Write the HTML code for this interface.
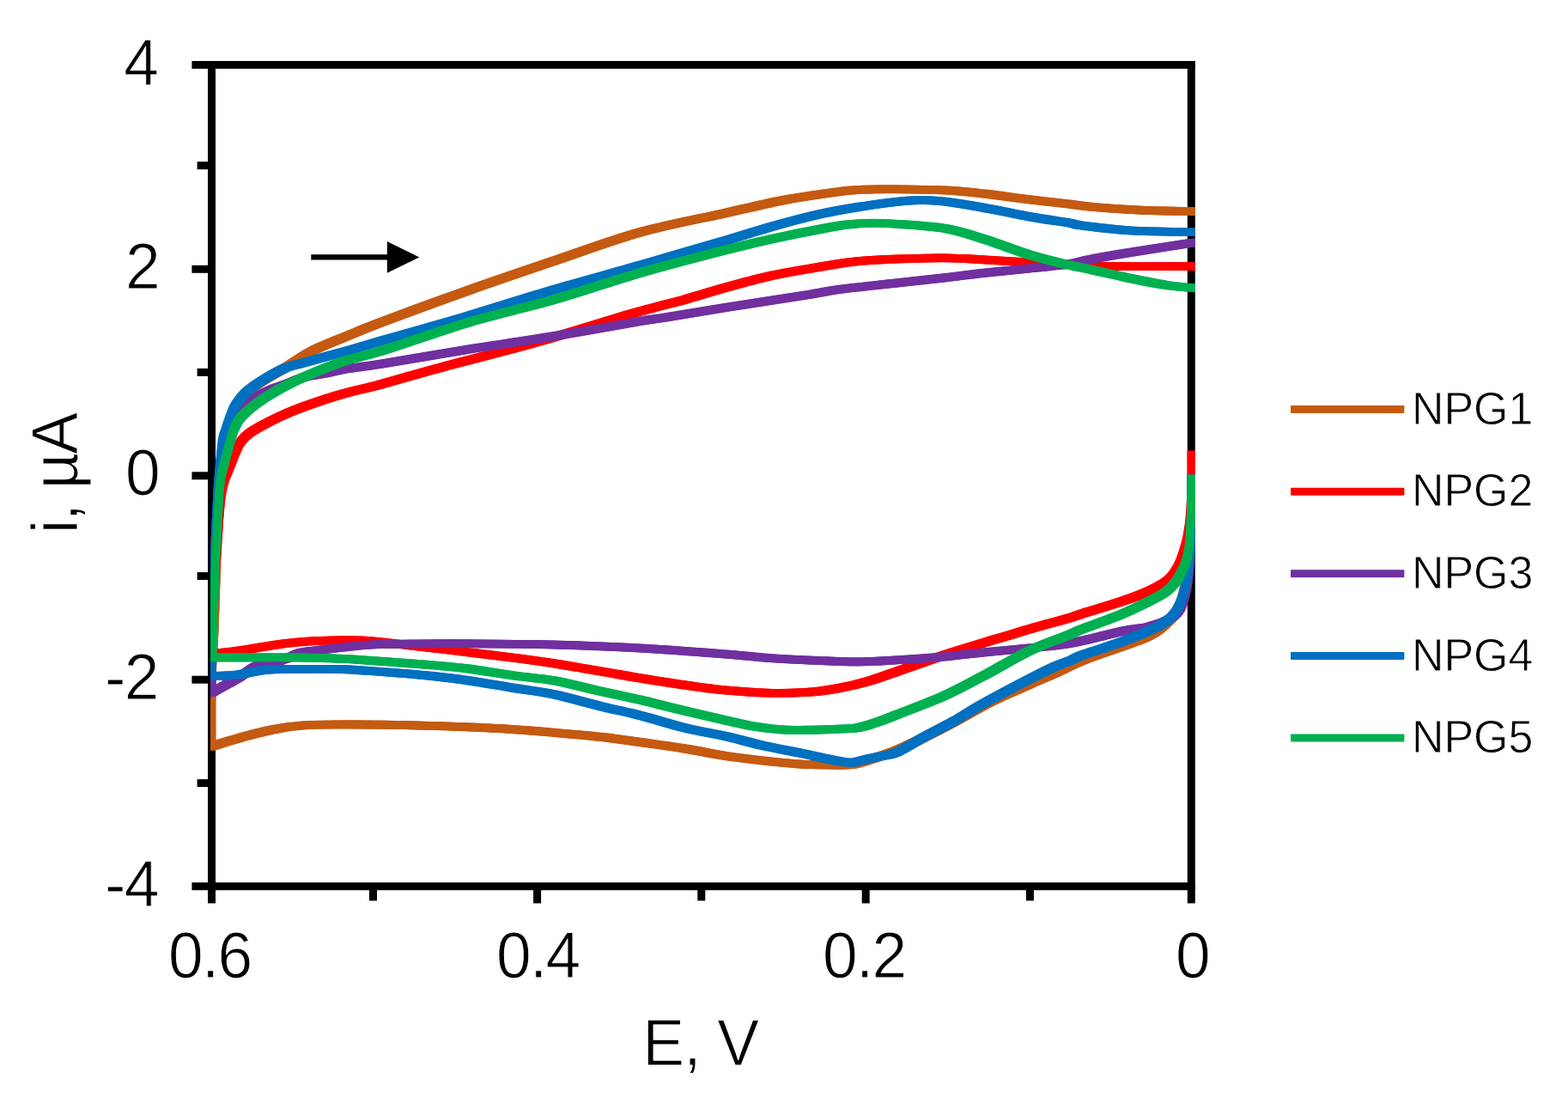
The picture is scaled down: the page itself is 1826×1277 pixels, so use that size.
<!DOCTYPE html>
<html lang="en">
<head>
<meta charset="utf-8">
<title>Chart</title>
<style>
html,body{margin:0;padding:0;background:#fff;}
body{width:1826px;height:1277px;overflow:hidden;font-family:"Liberation Sans",sans-serif;}
svg{display:block;}
text{fill:#000;}
</style>
</head>
<body>
<svg width="1826" height="1277" viewBox="0 0 1826 1277">
<rect x="0" y="0" width="1826" height="1277" fill="#fff"/>
<g stroke="#000" stroke-width="9" fill="none" stroke-linecap="butt">
<path d="M223.4 75.5 H1391.8"/>
<path d="M223.4 1031.7 H1391.8"/>
<path d="M246.5 71 V1051.5"/>
<path d="M1387.3 71 V1051.5"/>
<path d="M223.4 313.3 H246.5"/>
<path d="M223.4 553.8 H246.5"/>
<path d="M223.4 791.2 H246.5"/>
<path d="M229.6 192.7 H246.5"/>
<path d="M229.6 433.4 H246.5"/>
<path d="M229.6 670.6 H246.5"/>
<path d="M229.6 911.6 H246.5"/>
<path d="M625.6 1031.7 V1051.5"/>
<path d="M1008.2 1031.7 V1051.5"/>
<path d="M434.5 1031.7 V1048.5"/>
<path d="M816.8 1031.7 V1048.5"/>
<path d="M1199.4 1031.7 V1048.5"/>
</g>
<defs><clipPath id="plot"><rect x="245" y="60" width="1147" height="990"/></clipPath>
<path id="c1" d="M1387.5 557.5 C1387.4 564.6 1387.4 586.2 1387.0 600.0 C1386.6 613.8 1385.8 629.2 1385.0 640.0 C1384.2 650.8 1383.5 657.5 1382.5 665.0 C1381.5 672.5 1380.4 678.7 1379.0 685.0 C1377.6 691.3 1375.9 697.8 1374.0 703.0 C1372.1 708.2 1370.3 712.0 1367.5 716.0 C1364.7 720.0 1360.8 723.6 1357.0 727.0 C1353.2 730.4 1349.3 733.7 1345.0 736.5 C1340.7 739.3 1337.7 740.9 1331.0 743.6 C1324.3 746.4 1316.8 748.8 1305.0 753.0 C1293.2 757.2 1272.5 764.0 1260.0 769.0 C1247.5 774.0 1240.2 778.4 1230.0 783.0 C1219.8 787.6 1211.1 791.2 1198.5 796.8 C1185.9 802.4 1169.3 809.1 1154.6 816.5 C1139.8 823.9 1122.9 834.1 1110.0 841.0 C1097.1 847.9 1087.8 852.7 1077.0 858.0 C1066.2 863.3 1054.5 869.0 1045.0 873.0 C1035.5 877.0 1028.7 879.2 1020.0 882.0 C1011.3 884.8 1002.1 888.6 993.0 890.0 C983.9 891.4 975.6 890.6 965.6 890.5 C955.6 890.4 945.5 890.4 932.7 889.6 C919.9 888.8 903.5 887.1 888.9 885.5 C874.3 883.9 860.1 882.3 845.0 880.0 C829.9 877.7 815.2 874.3 798.5 871.6 C781.8 868.9 761.5 866.2 745.0 863.9 C728.5 861.6 716.5 859.8 699.8 857.9 C683.1 856.0 661.9 854.3 645.0 852.8 C628.1 851.3 615.2 850.2 598.5 849.1 C581.8 848.0 561.5 847.1 545.0 846.4 C528.5 845.7 516.5 845.4 499.8 844.9 C483.1 844.4 461.9 843.9 445.0 843.6 C428.1 843.4 413.6 843.3 398.5 843.4 C383.4 843.5 367.4 843.4 354.6 844.3 C341.8 845.2 332.8 846.6 321.8 848.6 C310.9 850.6 298.9 853.6 288.9 856.2 C278.9 858.8 269.1 861.9 262.0 864.0 C254.9 866.1 249.1 868.2 246.5 869.0 C246.5 859.5 246.3 828.5 246.5 812.0 C246.7 795.5 246.9 784.5 247.5 770.0 C248.1 755.5 249.2 745.0 250.0 725.0 C250.8 705.0 251.7 670.8 252.3 650.0 C252.9 629.2 253.0 615.0 253.5 600.0 C254.0 585.0 254.8 570.8 255.5 560.0 C256.2 549.2 256.9 543.3 258.0 535.0 C259.1 526.7 260.3 517.5 262.0 510.0 C263.7 502.5 265.8 495.8 268.0 490.0 C270.2 484.2 272.2 480.0 275.0 475.0 C277.8 470.0 281.3 464.2 285.0 460.0 C288.7 455.8 292.7 452.8 297.0 449.5 C301.3 446.2 305.1 444.0 310.8 440.5 C316.6 437.0 326.0 431.8 331.5 428.5 C337.0 425.2 338.0 424.0 343.7 420.5 C349.4 417.0 356.5 412.0 365.6 407.5 C374.7 403.0 385.3 398.9 398.5 393.5 C411.7 388.1 420.6 384.0 445.0 374.8 C469.4 365.6 511.7 350.0 545.0 338.2 C578.3 326.4 611.7 315.1 645.0 303.8 C678.3 292.5 711.7 279.8 745.0 270.5 C778.3 261.2 817.4 254.2 845.0 248.0 C872.6 241.8 890.7 237.3 910.8 233.4 C930.9 229.5 951.0 226.8 965.6 224.7 C980.2 222.6 985.3 221.7 998.5 221.0 C1011.7 220.3 1028.1 220.2 1045.0 220.3 C1061.9 220.4 1083.1 220.6 1099.8 221.4 C1116.5 222.2 1128.5 223.6 1145.0 225.4 C1161.5 227.2 1181.8 230.3 1198.5 232.3 C1215.2 234.3 1233.0 236.1 1245.0 237.5 C1257.0 238.9 1257.4 239.6 1270.8 240.8 C1284.2 242.0 1306.1 243.6 1325.6 244.5 C1345.0 245.4 1377.2 245.8 1387.5 246.0"/>
<path id="c2" d="M1387.5 529.5 C1387.5 534.6 1387.8 548.2 1387.5 560.0 C1387.2 571.8 1386.8 589.0 1386.0 600.0 C1385.2 611.0 1384.0 618.2 1382.5 626.0 C1381.0 633.8 1378.9 640.7 1377.0 646.5 C1375.1 652.3 1373.8 656.2 1371.0 661.0 C1368.2 665.8 1366.2 670.4 1360.5 675.0 C1354.8 679.6 1346.2 684.2 1337.0 688.5 C1327.8 692.8 1317.9 696.2 1305.0 700.5 C1292.1 704.8 1269.8 711.3 1259.8 714.5 C1249.8 717.7 1254.1 716.8 1245.0 719.5 C1235.9 722.2 1217.5 726.9 1205.0 730.5 C1192.5 734.1 1180.0 738.0 1170.0 741.0 C1160.0 744.0 1156.7 744.9 1145.0 748.5 C1133.3 752.1 1116.5 757.0 1099.8 762.5 C1083.1 768.0 1060.0 776.4 1045.0 781.5 C1030.0 786.6 1020.9 790.1 1009.5 793.4 C998.1 796.7 987.4 799.1 976.6 801.1 C965.9 803.1 957.8 804.5 945.0 805.5 C932.2 806.5 916.5 807.2 899.8 806.9 C883.1 806.6 861.9 805.0 845.0 803.5 C828.1 802.0 815.2 800.0 798.5 797.6 C781.8 795.2 761.5 792.0 745.0 789.3 C728.5 786.6 716.5 784.3 699.8 781.5 C683.1 778.7 661.9 774.9 645.0 772.3 C628.1 769.7 615.2 768.0 598.5 765.8 C581.8 763.6 563.3 761.4 545.0 759.2 C526.7 757.0 505.6 754.6 488.9 752.6 C472.2 750.6 456.4 748.7 445.0 747.5 C433.6 746.3 431.8 745.8 420.4 745.5 C409.0 745.2 391.2 745.1 376.6 745.7 C362.0 746.3 347.3 747.3 332.7 749.0 C318.1 750.7 300.7 754.2 288.9 756.0 C277.1 757.8 269.0 758.8 262.0 759.5 C255.0 760.2 249.5 760.3 247.0 760.5 C247.1 754.6 247.0 738.4 247.5 725.0 C248.0 711.6 249.2 692.5 250.0 680.0 C250.8 667.5 251.4 663.3 252.3 650.0 C253.2 636.7 254.5 613.0 255.5 600.0 C256.5 587.0 257.4 579.2 258.5 572.0 C259.6 564.8 260.5 561.7 262.0 557.0 C263.5 552.3 265.3 549.2 267.4 544.0 C269.5 538.8 272.3 531.0 274.5 526.0 C276.7 521.0 277.8 517.7 280.5 514.0 C283.2 510.3 285.4 507.8 290.8 504.0 C296.2 500.2 305.3 495.3 312.8 491.4 C320.3 487.5 327.2 484.1 336.0 480.4 C344.8 476.7 355.2 472.9 365.6 469.3 C376.0 465.7 385.3 462.5 398.5 458.8 C411.7 455.1 426.3 452.1 445.0 447.0 C463.7 441.9 494.1 433.1 510.8 428.5 C527.5 423.9 530.4 423.3 545.0 419.5 C559.6 415.7 581.8 410.0 598.5 405.5 C615.2 401.0 628.1 397.4 645.0 392.5 C661.9 387.6 683.3 381.0 700.0 376.0 C716.7 371.0 728.6 367.1 745.0 362.5 C761.4 357.9 781.8 353.0 798.5 348.4 C815.2 343.8 828.1 339.4 845.0 334.8 C861.9 330.2 881.5 324.6 899.8 320.6 C918.1 316.6 938.1 313.4 954.6 310.7 C971.1 308.0 983.4 305.7 998.5 304.2 C1013.6 302.7 1028.1 302.1 1045.0 301.5 C1061.9 300.9 1083.1 300.2 1099.8 300.3 C1116.5 300.4 1128.5 301.4 1145.0 302.3 C1161.5 303.2 1181.8 304.6 1198.5 305.5 C1215.2 306.4 1229.3 306.8 1245.0 307.5 C1260.7 308.2 1269.0 309.6 1292.7 310.0 C1316.5 310.4 1371.7 310.1 1387.5 310.1"/>
<path id="c3" d="M1387.5 557.5 C1387.4 567.9 1387.4 602.1 1387.0 620.0 C1386.6 637.9 1386.1 653.0 1385.0 665.0 C1383.9 677.0 1382.5 684.3 1380.5 692.0 C1378.5 699.7 1376.7 705.9 1373.0 711.0 C1369.3 716.1 1364.6 719.3 1358.5 722.5 C1352.4 725.7 1342.1 728.5 1336.6 730.0 C1331.1 731.5 1331.1 730.6 1325.6 731.5 C1320.1 732.4 1312.8 733.4 1303.7 735.4 C1294.6 737.4 1281.8 741.1 1270.8 743.6 C1259.8 746.1 1250.0 748.4 1237.9 750.2 C1225.9 752.0 1214.0 753.0 1198.5 754.5 C1183.0 756.0 1161.5 757.9 1145.0 759.5 C1128.5 761.1 1116.5 762.9 1099.8 764.4 C1083.1 765.9 1061.9 767.3 1045.0 768.3 C1028.1 769.3 1015.2 770.3 998.5 770.4 C981.8 770.5 961.5 769.3 945.0 768.6 C928.5 767.9 916.5 767.5 899.8 766.3 C883.1 765.1 870.8 763.5 845.0 761.5 C819.2 759.5 778.3 756.3 745.0 754.5 C711.7 752.7 678.3 751.4 645.0 750.5 C611.7 749.6 578.3 749.4 545.0 749.3 C511.7 749.2 467.7 749.5 445.0 750.0 C422.3 750.5 418.6 751.7 409.0 752.5 C399.4 753.3 394.8 754.2 387.5 755.0 C380.2 755.8 371.4 756.7 365.0 757.5 C358.6 758.3 354.2 758.6 349.2 760.0 C344.2 761.4 339.9 764.2 335.0 766.0 C330.1 767.8 325.3 769.8 320.0 771.0 C314.7 772.2 307.7 772.2 303.0 773.5 C298.3 774.8 296.2 776.4 292.0 779.0 C287.8 781.6 283.0 785.8 277.9 789.0 C272.8 792.2 266.6 795.2 261.4 798.1 C256.2 801.0 249.0 805.1 246.5 806.5 C246.5 802.1 246.4 793.6 246.5 780.0 C246.6 766.4 246.5 746.7 247.0 725.0 C247.5 703.3 248.8 669.2 249.5 650.0 C250.2 630.8 250.8 624.2 251.5 610.0 C252.2 595.8 253.1 577.5 254.0 565.0 C254.9 552.5 255.9 543.8 257.0 535.0 C258.1 526.2 259.2 517.8 260.5 512.0 C261.8 506.2 263.1 503.8 265.0 500.0 C266.9 496.2 269.8 492.2 272.0 489.0 C274.2 485.8 275.8 483.5 278.0 481.0 C280.2 478.5 282.3 476.4 285.0 474.0 C287.7 471.6 290.8 468.9 294.0 466.5 C297.2 464.1 300.3 461.7 304.0 459.5 C307.7 457.3 311.2 455.5 316.0 453.5 C320.8 451.5 326.3 449.9 332.7 447.5 C339.1 445.1 346.4 441.2 354.6 439.0 C362.8 436.8 374.7 435.5 382.0 434.0 C389.3 432.5 392.1 431.4 398.5 430.2 C404.9 429.0 412.6 428.1 420.4 427.0 C428.1 425.9 424.2 426.9 445.0 423.5 C465.8 420.1 511.7 412.2 545.0 406.8 C578.3 401.4 611.7 396.9 645.0 391.4 C678.3 385.9 723.1 377.7 745.0 374.0 C766.9 370.3 759.9 372.0 776.6 369.3 C793.3 366.6 816.9 362.5 845.0 358.0 C873.1 353.5 923.1 346.0 945.0 342.5 C966.9 339.0 959.9 339.2 976.6 337.0 C993.3 334.8 1024.5 331.7 1045.0 329.4 C1065.5 327.1 1083.1 325.3 1099.8 323.4 C1116.5 321.5 1128.5 319.7 1145.0 317.9 C1161.5 316.1 1181.8 314.2 1198.5 312.5 C1215.2 310.8 1233.0 309.3 1245.0 307.5 C1257.0 305.7 1257.4 304.2 1270.8 301.7 C1284.2 299.2 1306.1 295.5 1325.6 292.4 C1345.0 289.2 1377.2 284.4 1387.5 282.8"/>
<path id="c4" d="M1387.5 557.5 C1387.5 564.6 1387.7 586.2 1387.5 600.0 C1387.3 613.8 1387.0 630.0 1386.5 640.0 C1386.0 650.0 1385.2 654.2 1384.5 660.0 C1383.8 665.8 1383.0 670.0 1382.0 675.0 C1381.0 680.0 1379.8 685.3 1378.5 690.0 C1377.2 694.7 1375.7 699.2 1374.0 703.0 C1372.3 706.8 1371.2 709.5 1368.5 713.0 C1365.8 716.5 1362.8 720.2 1357.5 723.8 C1352.2 727.4 1345.3 730.8 1336.6 734.8 C1327.8 738.8 1317.8 742.8 1305.0 747.5 C1292.2 752.2 1269.8 759.1 1259.8 762.8 C1249.8 766.5 1250.5 767.2 1245.0 769.5 C1239.5 771.8 1234.8 773.0 1227.0 776.5 C1219.2 780.0 1212.2 783.6 1198.5 790.7 C1184.8 797.8 1159.6 811.1 1145.0 819.2 C1130.4 827.3 1122.0 833.2 1110.8 839.5 C1099.6 845.8 1088.9 851.0 1077.9 857.0 C1066.9 863.0 1053.8 871.6 1045.0 875.5 C1036.2 879.4 1030.9 879.1 1025.0 880.5 C1019.1 881.9 1014.8 882.6 1009.5 883.8 C1004.2 885.0 997.9 887.2 993.0 887.7 C988.1 888.2 984.6 887.1 980.0 886.5 C975.4 885.9 973.5 885.5 965.6 883.9 C957.7 882.3 945.5 879.4 932.7 876.8 C919.9 874.1 903.5 871.3 888.9 868.0 C874.3 864.7 860.1 860.4 845.0 857.0 C829.9 853.6 815.2 851.5 798.5 847.5 C781.8 843.5 761.5 836.9 745.0 832.7 C728.5 828.5 716.5 826.3 699.8 822.2 C683.1 818.1 661.9 811.8 645.0 808.2 C628.1 804.7 615.2 803.6 598.5 800.9 C581.8 798.2 561.5 794.5 545.0 792.1 C528.5 789.7 516.5 788.3 499.8 786.6 C483.1 784.9 461.9 783.2 445.0 782.0 C428.1 780.8 413.6 779.6 398.5 779.1 C383.4 778.6 369.2 778.8 354.6 778.9 C340.0 779.0 323.6 778.7 310.8 779.8 C298.0 780.9 286.0 784.2 277.9 785.3 C269.8 786.4 267.2 786.2 262.0 786.5 C256.8 786.8 249.1 786.8 246.5 786.8 C246.5 782.3 246.4 770.3 246.5 760.0 C246.6 749.7 246.6 738.3 247.0 725.0 C247.4 711.7 248.5 692.5 249.0 680.0 C249.5 667.5 249.6 661.7 250.0 650.0 C250.4 638.3 250.9 623.3 251.5 610.0 C252.1 596.7 252.8 581.7 253.5 570.0 C254.2 558.3 255.1 549.3 256.0 540.0 C256.9 530.7 257.8 520.2 258.8 514.0 C259.8 507.8 260.6 507.3 262.0 503.0 C263.4 498.7 265.2 492.8 267.0 488.0 C268.8 483.2 270.7 477.9 272.8 474.0 C274.9 470.1 276.8 467.6 279.5 464.3 C282.2 461.1 283.7 458.6 288.9 454.5 C294.1 450.4 303.7 443.9 310.8 439.6 C317.9 435.3 324.2 431.6 331.5 428.7 C338.8 425.8 343.4 425.2 354.6 422.1 C365.8 419.0 383.4 414.2 398.5 410.0 C413.6 405.8 420.6 403.6 445.0 396.6 C469.4 389.6 511.7 377.8 545.0 367.9 C578.3 358.0 611.7 347.1 645.0 337.3 C678.3 327.5 711.7 318.6 745.0 309.0 C778.3 299.4 819.2 287.6 845.0 280.0 C870.8 272.4 881.5 268.6 899.8 263.5 C918.1 258.4 938.1 253.0 954.6 249.3 C971.1 245.6 983.4 243.5 998.5 241.1 C1013.6 238.7 1032.8 236.2 1045.0 234.8 C1057.2 233.5 1062.9 233.1 1072.0 233.0 C1081.1 232.9 1087.6 233.1 1099.8 234.5 C1112.0 235.9 1128.5 238.8 1145.0 241.7 C1161.5 244.6 1181.8 249.1 1198.5 252.1 C1215.2 255.1 1234.8 257.8 1245.0 259.5 C1255.2 261.2 1248.2 261.0 1259.8 262.5 C1271.4 264.0 1293.3 267.0 1314.6 268.3 C1335.9 269.6 1375.3 269.9 1387.5 270.2"/>
<path id="c5" d="M1387.5 557.5 C1387.5 561.2 1387.7 571.2 1387.5 580.0 C1387.3 588.8 1387.0 600.3 1386.5 610.0 C1386.0 619.7 1385.4 630.7 1384.5 638.0 C1383.6 645.3 1382.4 649.3 1381.0 654.0 C1379.6 658.7 1378.2 661.8 1376.0 666.0 C1373.8 670.2 1371.2 675.1 1368.0 679.0 C1364.8 682.9 1362.3 685.8 1357.0 689.5 C1351.7 693.2 1344.7 696.7 1336.0 701.0 C1327.3 705.3 1317.7 710.2 1305.0 715.5 C1292.3 720.8 1269.8 728.6 1259.8 732.5 C1249.8 736.4 1255.0 734.9 1245.0 739.0 C1235.0 743.1 1216.7 749.0 1200.0 757.0 C1183.3 765.0 1161.7 778.1 1145.0 786.9 C1128.3 795.7 1116.5 802.4 1099.8 809.9 C1083.1 817.4 1058.2 826.6 1045.0 831.8 C1031.8 837.0 1028.2 838.5 1020.4 841.1 C1012.6 843.7 1005.8 846.0 998.5 847.2 C991.2 848.5 985.5 848.2 976.6 848.6 C967.7 849.0 956.0 849.5 945.0 849.6 C934.0 849.7 922.0 850.1 910.8 849.4 C899.6 848.7 888.9 847.3 877.9 845.5 C866.9 843.7 858.2 841.5 845.0 838.5 C831.8 835.5 815.2 831.7 798.5 827.7 C781.8 823.7 761.5 818.4 745.0 814.6 C728.5 810.8 716.5 808.4 699.8 804.7 C683.1 801.0 661.9 795.3 645.0 792.3 C628.1 789.3 615.2 788.8 598.5 786.5 C581.8 784.2 561.5 780.5 545.0 778.4 C528.5 776.3 516.5 775.4 499.8 774.0 C483.1 772.6 461.9 771.1 445.0 769.9 C428.1 768.7 415.4 767.6 398.5 766.9 C381.6 766.1 363.8 765.6 343.7 765.4 C323.6 765.1 293.9 765.4 277.9 765.4 C261.9 765.4 252.6 765.4 247.5 765.4 C247.6 761.2 247.7 750.9 248.0 740.0 C248.3 729.1 248.8 715.0 249.3 700.0 C249.9 685.0 250.5 666.7 251.3 650.0 C252.1 633.3 253.2 612.5 253.9 600.0 C254.6 587.5 254.7 582.5 255.3 575.0 C255.9 567.5 256.5 561.0 257.5 555.0 C258.5 549.0 260.0 544.8 261.5 539.0 C263.0 533.2 264.8 526.0 266.5 520.0 C268.2 514.0 269.5 508.2 271.5 503.0 C273.5 497.8 275.9 492.5 278.5 488.5 C281.1 484.5 284.0 482.2 287.3 479.1 C290.6 476.0 294.6 472.9 298.5 470.0 C302.4 467.1 305.1 465.1 310.8 461.6 C316.5 458.1 325.4 452.8 332.7 449.0 C340.0 445.2 343.6 443.3 354.6 438.6 C365.6 433.9 383.4 426.1 398.5 421.0 C413.6 415.9 420.6 415.8 445.0 408.2 C469.4 400.6 511.7 385.4 545.0 375.5 C578.3 365.6 611.7 358.4 645.0 348.8 C678.3 339.2 711.7 327.3 745.0 317.7 C778.3 308.1 819.2 297.6 845.0 291.0 C870.8 284.4 881.5 281.9 899.8 277.9 C918.1 273.9 940.0 269.6 954.6 266.9 C969.2 264.1 977.4 262.6 987.5 261.4 C997.6 260.2 1005.4 259.8 1015.0 259.7 C1024.6 259.6 1030.9 259.8 1045.0 260.8 C1059.1 261.8 1083.1 263.0 1099.8 265.8 C1116.5 268.6 1128.5 272.8 1145.0 277.9 C1161.5 283.0 1181.8 291.4 1198.5 296.5 C1215.2 301.6 1234.8 306.1 1245.0 308.6 C1255.2 311.1 1248.2 309.1 1259.8 311.6 C1271.4 314.1 1298.1 320.2 1314.6 323.6 C1331.0 327.0 1346.3 330.1 1358.5 332.0 C1370.7 333.9 1382.7 334.5 1387.5 335.0"/>
</defs>
<g clip-path="url(#plot)" fill="none" stroke-linejoin="round" stroke-linecap="square">
<g stroke="#C55A11">
<use href="#c1" stroke-width="9.8"/>
<use href="#c1" stroke-width="2.4" transform="translate(-3.6 -3.6)"/>
<use href="#c1" stroke-width="2.4" transform="translate(3.6 -3.6)"/>
<use href="#c1" stroke-width="2.4" transform="translate(-3.6 3.6)"/>
<use href="#c1" stroke-width="2.4" transform="translate(3.6 3.6)"/>
</g>
<g stroke="#FF0000">
<use href="#c2" stroke-width="9.8"/>
<use href="#c2" stroke-width="2.4" transform="translate(-3.6 -3.6)"/>
<use href="#c2" stroke-width="2.4" transform="translate(3.6 -3.6)"/>
<use href="#c2" stroke-width="2.4" transform="translate(-3.6 3.6)"/>
<use href="#c2" stroke-width="2.4" transform="translate(3.6 3.6)"/>
</g>
<g stroke="#7030A0">
<use href="#c3" stroke-width="9.8"/>
<use href="#c3" stroke-width="2.4" transform="translate(-3.6 -3.6)"/>
<use href="#c3" stroke-width="2.4" transform="translate(3.6 -3.6)"/>
<use href="#c3" stroke-width="2.4" transform="translate(-3.6 3.6)"/>
<use href="#c3" stroke-width="2.4" transform="translate(3.6 3.6)"/>
</g>
<g stroke="#0070C0">
<use href="#c4" stroke-width="9.8"/>
<use href="#c4" stroke-width="2.4" transform="translate(-3.6 -3.6)"/>
<use href="#c4" stroke-width="2.4" transform="translate(3.6 -3.6)"/>
<use href="#c4" stroke-width="2.4" transform="translate(-3.6 3.6)"/>
<use href="#c4" stroke-width="2.4" transform="translate(3.6 3.6)"/>
</g>
<g stroke="#00B050">
<use href="#c5" stroke-width="9.8"/>
<use href="#c5" stroke-width="2.4" transform="translate(-3.6 -3.6)"/>
<use href="#c5" stroke-width="2.4" transform="translate(3.6 -3.6)"/>
<use href="#c5" stroke-width="2.4" transform="translate(-3.6 3.6)"/>
<use href="#c5" stroke-width="2.4" transform="translate(3.6 3.6)"/>
</g>
</g>
<g font-size="76" font-family="'Liberation Sans', sans-serif" stroke="#fff" stroke-width="1" stroke-linejoin="round" letter-spacing="-1.8">
<text transform="translate(144.3 99.1) scale(0.963 1)">4</text>
<text transform="translate(146 335.8) scale(0.963 1)">2</text>
<text transform="translate(146 576.4) scale(0.963 1)">0</text>
<text transform="translate(122 813.6) scale(0.963 1)">-2</text>
<text transform="translate(122 1054.6) scale(0.963 1)">-4</text>
<text transform="translate(196 1137.6) scale(0.963 1)">0.6</text>
<text transform="translate(578 1137.6) scale(0.963 1)">0.4</text>
<text transform="translate(958 1137.6) scale(0.963 1)">0.2</text>
<text transform="translate(1369 1137.6) scale(0.963 1)">0</text>
<text transform="translate(748.3 1239.7) scale(0.963 1)" letter-spacing="-0.9">E, V</text>
<text transform="translate(90.3 621) rotate(-90) scale(0.963 1)">i, µA</text>
</g>
<g font-size="53.5" font-family="'Liberation Sans', sans-serif" stroke="#fff" stroke-width="0.8" letter-spacing="0">
<rect x="1503" y="472" width="132.4" height="9" rx="1" fill="#C55A11" stroke="none"/>
<text transform="translate(1644 493.5) scale(0.97 1)">NPG1</text>
<rect x="1503" y="567.8" width="132.4" height="9" rx="1" fill="#FF0000" stroke="none"/>
<text transform="translate(1644 589.3) scale(0.97 1)">NPG2</text>
<rect x="1503" y="663.2" width="132.4" height="9" rx="1" fill="#7030A0" stroke="none"/>
<text transform="translate(1644 684.7) scale(0.97 1)">NPG3</text>
<rect x="1503" y="759" width="132.4" height="9" rx="1" fill="#0070C0" stroke="none"/>
<text transform="translate(1644 780.5) scale(0.97 1)">NPG4</text>
<rect x="1503" y="854.5" width="132.4" height="9" rx="1" fill="#00B050" stroke="none"/>
<text transform="translate(1644 876) scale(0.97 1)">NPG5</text>
</g>
<path d="M362.3 299.3 H455" stroke="#000" stroke-width="6.2" fill="none"/>
<path d="M450.8 281 L488.3 299.4 L450.8 317.8 Z" fill="#000"/>
</svg>
</body>
</html>
